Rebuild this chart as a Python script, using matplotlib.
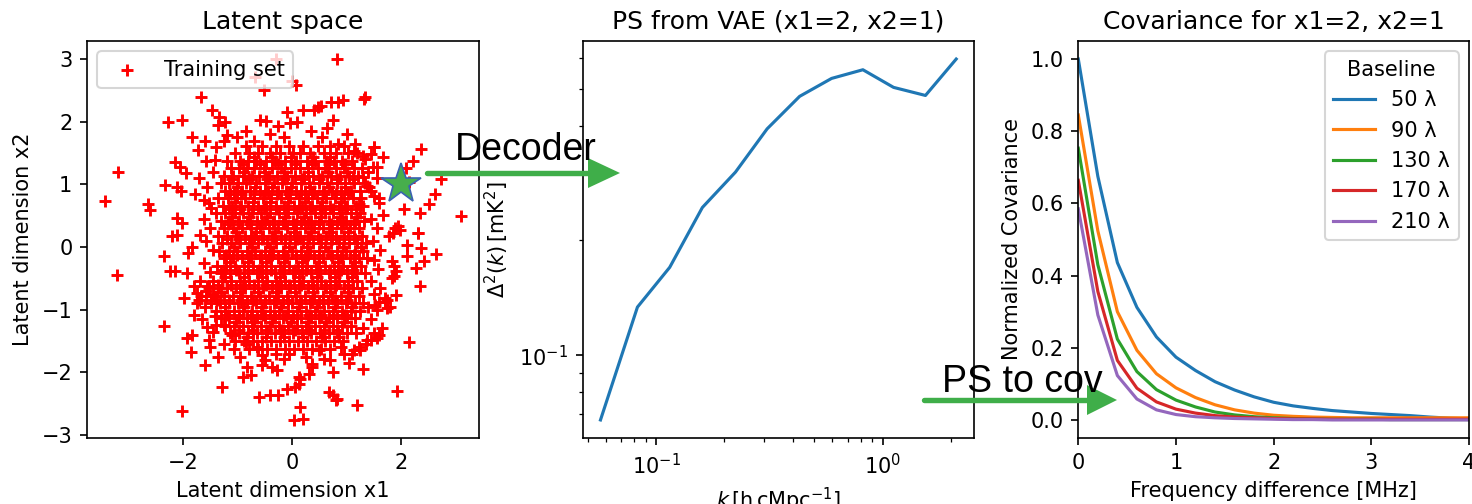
import matplotlib
matplotlib.use('Agg')
import matplotlib.pyplot as plt
from matplotlib.lines import Line2D
from matplotlib.patches import Polygon

# ---- latent space: training set (x1, x2) ----
train_outer = [
    (0.83, 3.00), (-0.29, 3.00), (-0.67, 2.71), (0.00, 2.65), (0.07, 2.59), (-0.52, 2.51),
    (-1.66, 2.40), (1.32, 2.37), (1.33, 2.39), (0.72, 2.32), (0.84, 2.31), (0.94, 2.35),
    (-0.09, 2.16), (0.21, 2.19), (0.40, 2.19), (0.47, 2.23), (0.53, 2.25), (-1.47, 2.19),
    (-1.33, 2.07), (-1.22, 2.00), (-2.28, 1.99), (-2.01, 2.03), (-0.58, 2.03), (-0.47, 2.01),
    (0.75, 2.02), (-0.25, 1.93), (-0.03, 1.98), (0.09, 2.00), (-1.35, 1.95), (-1.19, 1.79),
    (-1.83, 1.76), (1.01, 1.80), (-1.72, 1.55), (-1.57, 1.38), (-1.42, 1.39), (1.50, 1.59),
    (1.66, 1.44), (1.56, 1.28), (2.36, 1.57), (2.21, 1.38), (2.08, 1.26), (-3.18, 1.20),
    (-2.15, 1.35), (-2.05, 1.28), (-1.94, 1.18), (-2.32, 0.99), (-2.11, 0.96), (-2.03, 0.89),
    (-1.77, 0.84), (-1.62, 0.75), (-1.53, 0.70), (2.73, 1.09), (-3.43, 0.74), (-2.63, 0.68),
    (-2.60, 0.59), (2.62, 0.84), (2.51, 0.69), (2.35, 0.54), (3.10, 0.49), (2.06, 0.60),
    (1.66, 0.51), (1.38, 0.97), (1.50, 0.81), (1.31, 0.65), (1.88, 0.31), (1.97, 0.27),
    (2.31, 0.23), (1.77, 0.17), (2.11, 0.03), (2.37, -0.02), (2.63, -0.11), (2.10, -0.15),
    (1.83, -0.23), (1.87, -0.31), (1.90, -0.39), (1.87, -0.47), (1.83, -0.50), (2.27, -0.33),
    (2.41, -0.23), (2.34, -0.62), (1.90, -0.76), (1.74, -0.84), (1.59, -0.87), (1.56, -1.00),
    (1.74, -0.98), (1.71, -0.82), (1.65, -1.30), (1.56, -1.46), (1.59, -1.40), (2.14, -1.51),
    (1.31, -1.94), (1.93, -2.29), (1.20, -2.52), (0.67, -2.31), (0.76, -2.36), (0.83, -2.42),
    (0.80, -2.44), (0.76, -1.99), (0.12, -2.18), (0.15, -2.10), (0.12, -2.07), (0.14, -2.55),
    (0.03, -2.76), (0.21, -2.75), (-0.15, -1.78), (-0.25, -2.36), (-0.09, -2.27), (0.06, -2.23),
    (-0.61, -2.39), (-0.40, -2.36), (-1.28, -2.23), (-2.02, -2.61), (-1.59, -1.89), (-1.85, -1.68),
    (-1.93, -1.46), (-1.83, -1.40), (-2.35, -1.26), (-1.98, -0.82), (-3.21, -0.45), (-2.35, -0.15),
    (-2.23, -0.38), (-2.14, -0.39), (-1.93, -0.41), (-2.20, 0.17), (-2.11, 0.19), (-2.11, 0.46),
    (-2.02, 0.38), (-1.83, 0.00), (-1.90, -0.10), (-1.68, 0.19), (-1.80, -0.63), (-1.74, -0.74),
    (-1.74, -0.90), (-1.80, -1.08), (-1.56, -1.27), (-1.53, -1.48), (-1.44, -1.35), (-1.07, -1.62),
    (-0.95, -1.75), (-0.83, -1.91), (-0.89, -2.07), (-0.76, -2.04), (-0.55, -1.72), (-0.49, -1.80),
    (-0.37, -1.91), (-0.28, -1.96), (-0.55, -1.88), (0.31, -2.02), (0.37, -1.91), (0.37, -1.86),
    (0.58, -1.78), (0.70, -1.81), (0.95, -1.70), (1.10, -1.70), (1.13, -1.64), (1.25, -1.65),
    (1.22, -1.59), (1.38, -1.48), (1.44, -1.49), (1.50, -1.38), (1.51, 1.59), (1.45, 1.48),
    (1.14, 1.54), (1.33, 1.40), (1.48, 1.27), (1.30, 1.11), (1.42, 0.95), (1.60, 0.79),
    (1.23, 0.68), (2.15, 1.03), (1.94, 0.34), (1.85, 0.23), (2.30, 0.23),
]

train_middle = [
    (-1.55, 0.95), (-1.48, 0.62), (-1.62, 0.45), (-1.50, 0.30), (-1.58, 0.10), (-1.45, -0.05),
    (-1.62, -0.25), (-1.50, -0.40), (-1.68, -0.55), (-1.55, -0.62), (-1.66, -0.78), (-1.48, -0.85),
    (-1.60, -0.95), (-1.42, -1.10), (-1.65, -1.15), (-1.50, -1.60), (-1.35, -1.75), (-1.25, -1.55),
    (-1.70, 1.10), (-1.45, 1.20), (-1.60, 1.70), (-1.40, 1.60), (-1.25, 1.70), (-1.00, 1.75),
    (-0.85, 1.85), (-0.70, 1.70), (-0.40, 1.80), (-0.15, 1.75), (0.35, 1.85), (0.55, 1.75),
    (0.65, 1.90), (0.85, 1.65), (1.15, 1.65), (1.30, 1.45), (1.40, 1.20), (1.55, 1.10),
    (1.45, 0.90), (1.60, 0.70), (1.45, 0.45), (1.55, 0.30), (1.48, 0.10), (1.62, -0.05),
    (1.50, -0.20), (1.58, -0.35), (1.45, -0.55), (1.62, -0.65), (1.50, -0.75), (1.40, -0.95),
    (1.45, -1.15), (1.30, -1.30), (1.35, -1.55), (1.05, -1.85), (0.90, -1.60), (0.50, -1.65),
    (0.25, -1.75), (-0.05, -1.70), (-0.30, -1.70), (-0.65, -1.60), (-0.85, -1.55), (-1.10, -1.40),
    (-1.25, -1.25), (-1.40, -1.25), (1.70, -0.88), (1.80, -0.95), (1.52, -0.92), (-1.70, -0.85),
    (-1.58, -0.70), (-1.45, -0.75),
]

# dense core, row by row (x2 value, x1 values)
train_core_rows = [
    (1.62, [-0.85, -0.55, -0.30, -0.05, 0.20, 0.48, 0.70, 0.95]),
    (1.50, [-1.05, -0.78, -0.62, -0.41, -0.22, 0.02, 0.15, 0.33, 0.58, 0.81, 1.02, 1.20]),
    (1.44, [-0.70, -0.36, -0.02, 0.38, 0.70]),
    (1.38, [-1.20, -0.95, -0.80, -0.66, -0.48, -0.31, -0.12, 0.08, 0.27, 0.42, 0.63, 0.77, 0.92, 1.10]),
    (1.32, [-0.90, -0.58, -0.25, 0.05, 0.36, 0.68, 0.98]),
    (1.26, [-1.12, -0.98, -0.83, -0.70, -0.52, -0.36, -0.20, -0.02, 0.14, 0.30, 0.47, 0.61, 0.80, 0.96, 1.13, 1.28]),
    (1.20, [-0.88, -0.50, -0.14, 0.30, 0.66, 1.00]),
    (1.14, [-1.25, -1.08, -0.90, -0.74, -0.60, -0.43, -0.27, -0.09, 0.05, 0.22, 0.39, 0.55, 0.72, 0.88, 1.05, 1.21]),
    (1.08, [-1.10, -0.78, -0.46, -0.14, 0.18, 0.50, 0.82, 1.12]),
    (1.02, [-1.30, -1.15, -0.99, -0.85, -0.66, -0.50, -0.33, -0.18, 0.00, 0.16, 0.31, 0.49, 0.64, 0.83, 0.97, 1.14, 1.33]),
    (0.96, [-1.00, -0.68, -0.37, -0.02, 0.33, 0.68, 0.98]),
    (0.90, [-1.22, -1.06, -0.92, -0.77, -0.59, -0.44, -0.26, -0.11, 0.07, 0.24, 0.40, 0.57, 0.73, 0.90, 1.08, 1.24]),
    (0.84, [-1.13, -0.93, -0.70, -0.49, -0.28, -0.06, 0.16, 0.37, 0.58, 0.80, 1.02]),
    (0.78, [-1.35, -1.17, -1.01, -0.86, -0.69, -0.53, -0.38, -0.21, -0.04, 0.13, 0.29, 0.45, 0.62, 0.79, 0.95, 1.12, 1.27]),
    (0.72, [-1.05, -0.72, -0.41, -0.08, 0.24, 0.55, 0.90]),
    (0.66, [-1.27, -1.10, -0.94, -0.80, -0.62, -0.47, -0.30, -0.14, 0.03, 0.19, 0.36, 0.52, 0.69, 0.86, 1.01, 1.18]),
    (0.60, [-1.15, -0.95, -0.72, -0.51, -0.30, -0.09, 0.12, 0.33, 0.55, 0.76, 0.98, 1.18]),
    (0.54, [-1.40, -1.22, -1.05, -0.89, -0.73, -0.56, -0.40, -0.23, -0.07, 0.10, 0.26, 0.43, 0.60, 0.76, 0.92, 1.09, 1.25]),
    (0.48, [-1.10, -0.78, -0.45, -0.12, 0.22, 0.53, 0.88, 1.20]),
    (0.42, [-1.31, -1.14, -0.97, -0.82, -0.65, -0.49, -0.33, -0.16, 0.01, 0.17, 0.34, 0.50, 0.67, 0.83, 0.99, 1.16, 1.32]),
    (0.36, [-1.18, -0.99, -0.77, -0.55, -0.34, -0.13, 0.08, 0.29, 0.50, 0.72, 0.94, 1.14]),
    (0.30, [-1.24, -1.08, -0.91, -0.75, -0.58, -0.42, -0.26, -0.09, 0.08, 0.24, 0.41, 0.57, 0.74, 0.90, 1.07, 1.23]),
    (0.24, [-1.02, -0.66, -0.31, 0.03, 0.35, 0.68, 1.02]),
    (0.18, [-1.36, -1.19, -1.02, -0.86, -0.70, -0.53, -0.37, -0.20, -0.03, 0.14, 0.30, 0.47, 0.63, 0.80, 0.96, 1.13, 1.29]),
    (0.12, [-1.20, -0.98, -0.76, -0.55, -0.33, -0.12, 0.10, 0.31, 0.52, 0.73, 0.95, 1.16]),
    (0.06, [-1.28, -1.11, -0.95, -0.79, -0.62, -0.46, -0.29, -0.12, 0.05, 0.21, 0.38, 0.54, 0.71, 0.87, 1.04, 1.20, 1.36]),
    (0.00, [-1.06, -0.74, -0.40, -0.06, 0.28, 0.60, 0.94, 1.26]),
    (-0.06, [-1.33, -1.16, -1.00, -0.83, -0.67, -0.50, -0.34, -0.17, 0.00, 0.16, 0.33, 0.49, 0.66, 0.82, 0.99, 1.15, 1.31]),
    (-0.12, [-1.21, -1.00, -0.79, -0.57, -0.36, -0.14, 0.07, 0.29, 0.50, 0.71, 0.92, 1.13]),
    (-0.18, [-1.25, -1.09, -0.92, -0.76, -0.59, -0.43, -0.26, -0.10, 0.07, 0.23, 0.40, 0.56, 0.73, 0.89, 1.06, 1.22, 1.38]),
    (-0.24, [-1.14, -0.80, -0.48, -0.15, 0.18, 0.50, 0.84, 1.15]),
    (-0.30, [-1.38, -1.21, -1.05, -0.88, -0.72, -0.55, -0.39, -0.22, -0.06, 0.11, 0.27, 0.44, 0.60, 0.77, 0.93, 1.10, 1.26]),
    (-0.36, [-1.24, -1.02, -0.81, -0.60, -0.38, -0.17, 0.05, 0.26, 0.47, 0.69, 0.90, 1.12]),
    (-0.42, [-1.30, -1.13, -0.97, -0.80, -0.64, -0.47, -0.31, -0.14, 0.02, 0.19, 0.35, 0.52, 0.68, 0.85, 1.01, 1.18, 1.34]),
    (-0.48, [-1.22, -0.88, -0.55, -0.22, 0.12, 0.45, 0.78, 1.10]),
    (-0.54, [-1.45, -1.28, -1.12, -0.95, -0.79, -0.62, -0.46, -0.29, -0.13, 0.04, 0.20, 0.37, 0.53, 0.70, 0.86, 1.03, 1.19]),
    (-0.60, [-1.35, -1.12, -0.90, -0.69, -0.47, -0.26, -0.05, 0.17, 0.38, 0.60, 0.81, 1.03]),
    (-0.66, [-1.52, -1.36, -1.19, -1.03, -0.86, -0.70, -0.53, -0.37, -0.20, -0.04, 0.13, 0.29, 0.46, 0.62, 0.79, 0.95, 1.12, 1.28]),
    (-0.72, [-1.30, -0.96, -0.62, -0.30, 0.05, 0.38, 0.70, 1.02]),
    (-0.78, [-1.58, -1.41, -1.25, -1.08, -0.92, -0.75, -0.59, -0.42, -0.26, -0.09, 0.07, 0.24, 0.40, 0.57, 0.73, 0.90, 1.06, 1.22]),
    (-0.84, [-1.38, -1.15, -0.93, -0.72, -0.50, -0.29, -0.07, 0.14, 0.36, 0.57, 0.79, 1.00]),
    (-0.90, [-1.49, -1.32, -1.16, -0.99, -0.83, -0.66, -0.50, -0.33, -0.17, 0.00, 0.16, 0.33, 0.49, 0.66, 0.82, 0.99, 1.15, 1.31]),
    (-0.96, [-1.22, -0.88, -0.55, -0.20, 0.12, 0.45, 0.78, 1.10]),
    (-1.02, [-1.40, -1.23, -1.07, -0.90, -0.74, -0.57, -0.41, -0.24, -0.08, 0.09, 0.25, 0.42, 0.58, 0.75, 0.91, 1.08, 1.24]),
    (-1.08, [-1.20, -0.97, -0.76, -0.54, -0.33, -0.11, 0.10, 0.32, 0.53, 0.75, 0.96]),
    (-1.14, [-1.31, -1.15, -0.98, -0.82, -0.65, -0.49, -0.32, -0.16, 0.01, 0.17, 0.34, 0.50, 0.67, 0.83, 1.00, 1.16]),
    (-1.20, [-1.02, -0.70, -0.36, -0.02, 0.30, 0.62, 0.95]),
    (-1.26, [-1.22, -1.06, -0.89, -0.73, -0.56, -0.40, -0.23, -0.07, 0.10, 0.26, 0.43, 0.59, 0.76, 0.92, 1.09]),
    (-1.32, [-0.98, -0.72, -0.46, -0.20, 0.06, 0.32, 0.58, 0.82]),
    (-1.38, [-1.13, -0.97, -0.80, -0.64, -0.47, -0.31, -0.14, 0.02, 0.19, 0.35, 0.52, 0.68, 0.85, 1.01, 1.18]),
    (-1.44, [-0.82, -0.48, -0.14, 0.20, 0.55, 0.86]),
    (-1.50, [-1.04, -0.88, -0.71, -0.55, -0.38, -0.22, -0.05, 0.11, 0.28, 0.44, 0.61, 0.77, 0.94]),
    (-1.62, [-0.79, -0.62, -0.46, -0.29, -0.13, 0.04, 0.20, 0.37, 0.53, 0.70]),
]

chosen_point = (2, 1)

# ---- power spectrum decoded at (x1=2, x2=1) ----
k_values = [0.0568, 0.0827, 0.1148, 0.160, 0.224, 0.309, 0.430, 0.595, 0.818, 1.117, 1.545, 2.112]
ps_values = [0.0677, 0.1338, 0.1701, 0.2441, 0.3022, 0.3924, 0.4774, 0.532, 0.5606, 0.504, 0.480, 0.598]

# ---- covariance vs frequency difference ----
freq_diff = [0.0, 0.2, 0.4, 0.6, 0.8, 1.0, 1.2, 1.4, 1.6, 1.8, 2.0,
             2.2, 2.4, 2.6, 2.8, 3.0, 3.2, 3.4, 3.6, 3.8, 4.0]
baselines = ['50 λ', '90 λ', '130 λ', '170 λ', '210 λ']
cov_50 = [1.0, 0.675, 0.436, 0.312, 0.230, 0.174, 0.137, 0.106, 0.083, 0.064, 0.049,
          0.039, 0.032, 0.026, 0.022, 0.018, 0.015, 0.012, 0.008, 0.005, 0.003]
cov_90 = [0.845, 0.524, 0.300, 0.193, 0.128, 0.089, 0.062, 0.042, 0.028, 0.019, 0.013,
          0.010, 0.008, 0.007, 0.006, 0.006, 0.006, 0.006, 0.006, 0.006, 0.006]
cov_130 = [0.753, 0.430, 0.224, 0.134, 0.084, 0.055, 0.036, 0.022, 0.014, 0.009, 0.006,
           0.004, 0.003, 0.002, 0.002, 0.002, 0.001, 0.001, 0.001, 0.001, 0.001]
cov_170 = [0.664, 0.356, 0.165, 0.088, 0.050, 0.030, 0.019, 0.012, 0.008, 0.006, 0.004,
           0.003, 0.003, 0.002, 0.002, 0.002, 0.002, 0.002, 0.002, 0.002, 0.002]
cov_210 = [0.585, 0.291, 0.123, 0.058, 0.028, 0.015, 0.009, 0.006, 0.004, 0.003, 0.002,
           0.001, 0.001, 0.0, 0.0, 0.0, 0.0, 0.0, 0.0, 0.0, 0.0]

W, H = 1472, 504
ARROW_GREEN = '#3fae49'


def px(x, y):
    # pixel position (from top-left) -> figure fraction
    return x / W, 1 - y / H


def draw_arrow(fig, x_start, x_head, x_tip, y):
    x0, yy = px(x_start, y)
    x1, _ = px(x_head, y)
    xt, _ = px(x_tip, y)
    half = 15 / H
    fig.add_artist(Line2D([x0, x1 + 2 / W], [yy, yy], transform=fig.transFigure,
                          lw=2.6, color=ARROW_GREEN, solid_capstyle='round'))
    fig.add_artist(Polygon([[x1, yy + half], [xt, yy], [x1, yy - half]], closed=True,
                           transform=fig.transFigure, color=ARROW_GREEN, lw=0))


def main():
    xs, ys = [], []
    for x, y in train_outer + train_middle:
        xs.append(x)
        ys.append(y)
    for y, row in train_core_rows:
        for x in row:
            xs.append(x)
            ys.append(y)

    fig = plt.figure(figsize=(W / 150, H / 150), dpi=150)
    bottom, height = 66 / H, 397 / H
    ax1 = fig.add_axes([87 / W, bottom, 392 / W, height])
    ax2 = fig.add_axes([582.7 / W, bottom, 391.3 / W, height])
    ax3 = fig.add_axes([1078.3 / W, bottom, 390.7 / W, height])

    # latent space
    ax1.scatter(xs, ys, marker='+', color='red', s=36, linewidths=1.4, label='Training set')
    ax1.plot(*chosen_point, marker='*', ms=20, color='#47ae4c', mec='#3a62b0', mew=0.8)
    ax1.set_title('Latent space')
    ax1.set_xlabel('Latent dimension x1')
    ax1.set_ylabel('Latent dimension x2')
    ax1.set_yticks([-3, -2, -1, 0, 1, 2, 3])
    ax1.legend(loc='upper left')

    # power spectrum
    ax2.loglog(k_values, ps_values, color='tab:blue')
    ax2.set_title('PS from VAE (x1=2, x2=1)')
    ax2.set_xlabel(r'$k\,[\mathrm{h\,cMpc^{-1}}]$')
    ax2.set_ylabel(r'$\Delta^2(k)\,[\mathrm{mK^2}]$')

    # covariance
    for label, cov in zip(baselines, [cov_50, cov_90, cov_130, cov_170, cov_210]):
        ax3.plot(freq_diff, cov, label=label)
    ax3.set_xlim(0, 4)
    ax3.set_title('Covariance for x1=2, x2=1')
    ax3.set_xlabel('Frequency difference [MHz]')
    ax3.set_ylabel('Normalized Covariance')
    ax3.legend(title='Baseline', loc='upper right')

    # arrows between the panels
    draw_arrow(fig, 427, 588, 620, 173)
    draw_arrow(fig, 924, 1087, 1117, 400)
    fig.text(*px(455, 159.5), 'Decoder', fontsize=18, family='Liberation Sans', va='baseline')
    fig.text(*px(942, 391.7), 'PS to cov', fontsize=18, family='Liberation Sans', va='baseline')

    fig.savefig('out.png', dpi=150)


if __name__ == '__main__':
    main()
